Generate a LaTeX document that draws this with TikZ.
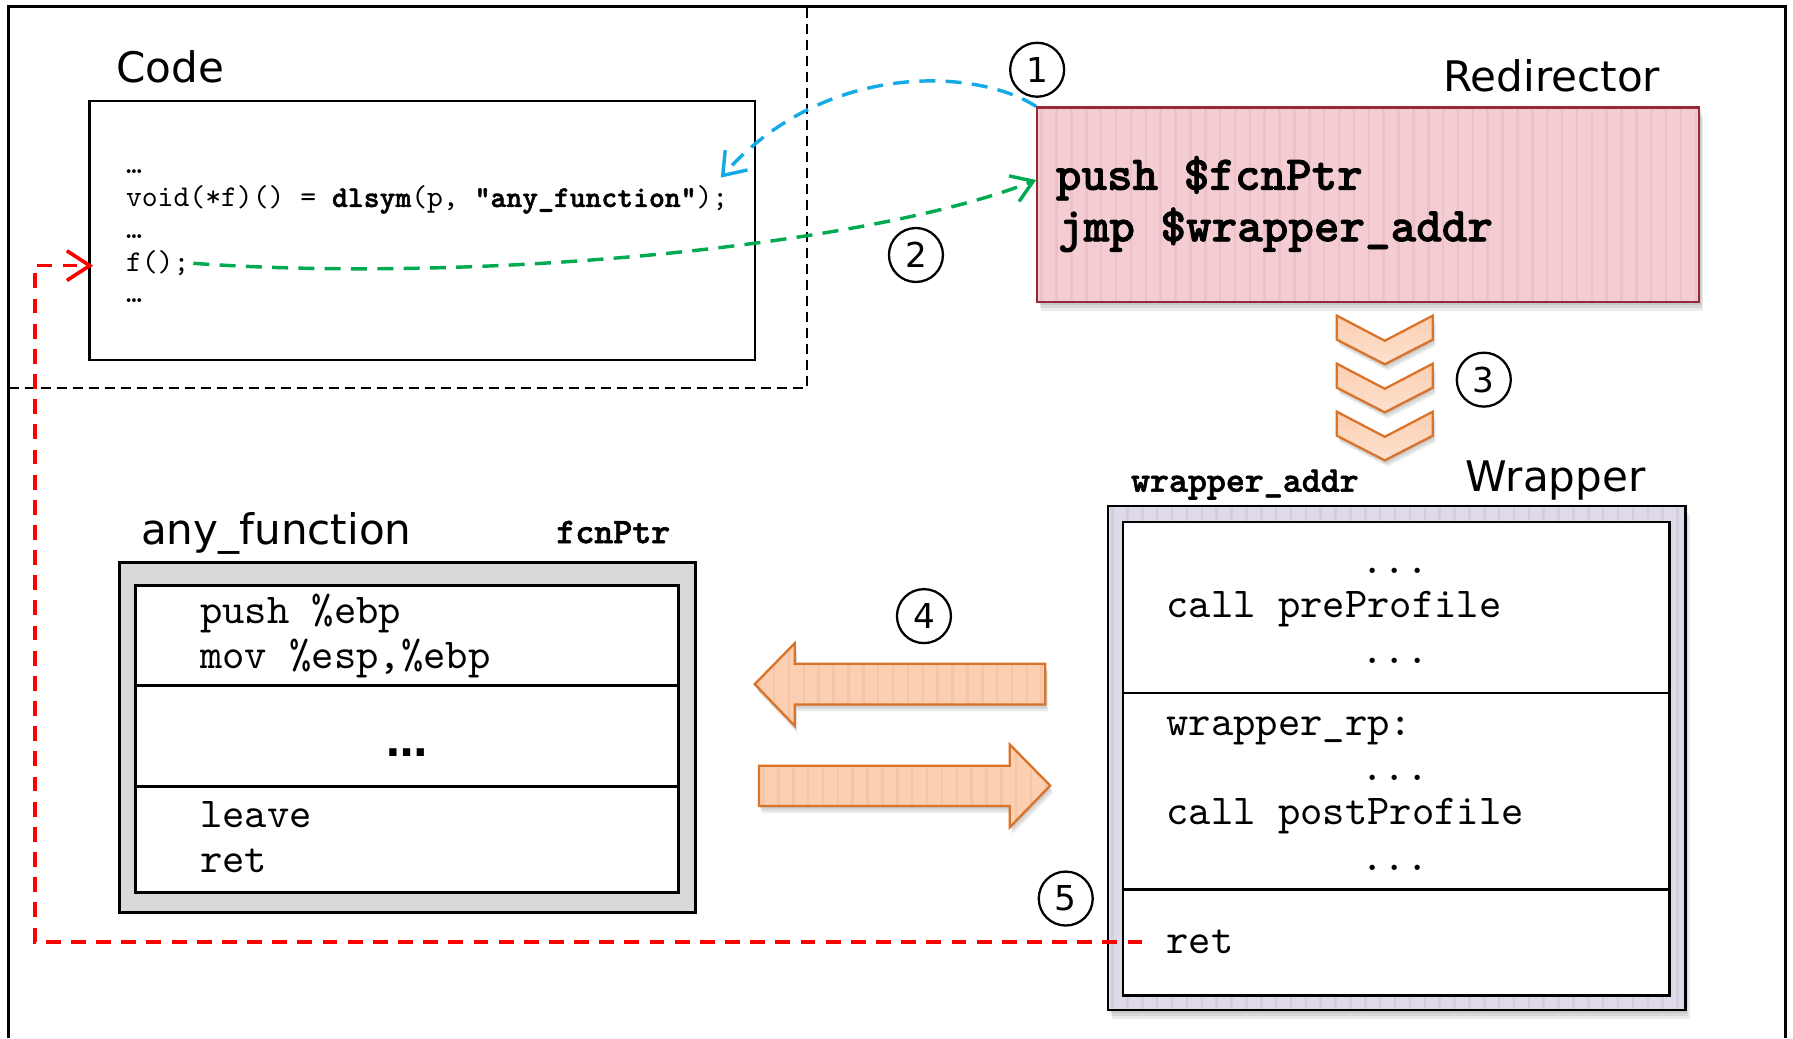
\documentclass[tikz,border=0pt]{standalone}
\usepackage{fontspec}
\setmainfont{DejaVu Sans}
\newfontfamily\cmono{lmmono10-regular.otf}[BoldFont=lmmonolt10-bold.otf,BoldFeatures={FakeBold=1.6}]
\usetikzlibrary{arrows.meta}
\definecolor{redirfill}{RGB}{243,205,210}
\definecolor{redirstripe}{RGB}{236,193,199}
\definecolor{redirdraw}{RGB}{150,40,55}
\definecolor{wrapfill}{RGB}{223,218,232}
\definecolor{wrapstripe}{RGB}{211,205,222}
\definecolor{anyfill}{RGB}{217,217,217}
\definecolor{peach}{RGB}{252,206,178}
\definecolor{peachstripe}{RGB}{246,197,168}
\definecolor{peachlight}{RGB}{253,226,206}
\definecolor{orangedraw}{RGB}{218,115,40}
\definecolor{bluec}{RGB}{20,170,230}
\definecolor{greenc}{RGB}{0,170,80}
\definecolor{redc}{RGB}{255,0,0}
\newcommand{\LArrowPath}{(660,598.3) -- (695,562.5) -- (695,580.5) -- (914,580.5) -- (914,616) -- (695,616) -- (695,634.8) -- cycle}
\newcommand{\RArrowPath}{(663.7,669.6) -- (883,669.6) -- (883,651) -- (918.4,687) -- (883,723.5) -- (883,704.8) -- (663.7,704.8) -- cycle}
\newcommand{\ChevShape}{(1169,276) -- (1211,298) -- (1253,276) -- (1253,297) -- (1211,318.6) -- (1169,297) -- cycle}
\tikzset{
  ttl/.style={inner sep=0pt, anchor=base west, font=\fontsize{18.4pt}{20pt}\selectfont},
  txt/.style={inner sep=0pt, anchor=base west},
  ctxt/.style={inner sep=0pt, anchor=base},
  codef/.style={font=\cmono\fontsize{13.2pt}{15pt}\selectfont},
  asmf/.style={font=\cmono\fontsize{18.6pt}{20pt}\selectfont},
  redf/.style={font=\cmono\bfseries\fontsize{21.3pt}{23pt}\selectfont},
  addrf/.style={font=\cmono\bfseries\fontsize{15.8pt}{17pt}\selectfont},
  num/.style={circle, draw, line width=1pt, minimum size=23.6pt, inner sep=0pt, font=\fontsize{15pt}{16pt}\selectfont},
  stripes/.style={path picture={\foreach \k in {0,...,50}{\draw[#1,line width=1.1pt] ([xshift=\k*6.5pt+2pt]path picture bounding box.south west) -- ([xshift=\k*6.5pt+2pt]path picture bounding box.north west);}}},
  boxnode/.style={inner sep=0pt, line width=1pt},
  chev/.style={draw=orangedraw, line width=1pt, top color=peach, bottom color=peachlight, line join=miter},
  blockarrow/.style={draw=orangedraw, line width=1pt, fill=peach, stripes=peachstripe},
  bluecon/.style={bluec, line width=1.5pt, dash pattern=on 7pt off 4.5pt, -{Straight Barb[length=9pt,width=13pt]}},
  greencon/.style={greenc, line width=1.5pt, dash pattern=on 7pt off 4.5pt, -{Straight Barb[length=9pt,width=12pt]}},
  redcon/.style={redc, line width=1.6pt, dash pattern=on 6.5pt off 4.5pt, -{Straight Barb[length=10pt,width=13pt]}},
  shadowfill/.style={fill=black, opacity=0.08}
}
\begin{document}
\begin{tikzpicture}[x=0.5pt,y=-0.5pt]
\useasboundingbox (0,0) rectangle (1568,908);
\fill[white] (0,0) rectangle (1568,908);

% outer frame and dashed code region
\draw[line width=1.3pt] (7.6,908) -- (7.6,6) -- (1561,6) -- (1561,908);
\draw[line width=0.9pt, dash pattern=on 4.4pt off 2.6pt] (7.6,339.6) -- (705.7,339.6) -- (705.7,6);

% ---------- Code ----------
\node[ttl] (codettl) at (101.5,72) {Code};
\node[boxnode, draw, fill=white, minimum width=291.2pt, minimum height=113.4pt] (code) at (369.35,201.65) {};
\node[txt,codef] (cl1) at (109.8,151.6) {…};
\node[txt,codef] (cl2) at (109.8,181) {void(*f)() = \textbf{dlsym}(p, \textbf{“any\_function”});};
\node[txt,codef] (cl3) at (109.8,208.5) {…};
\node[txt,codef] (ftxt) at (109.8,237.6) {f();};
\node[txt,codef] (cl5) at (109.8,264.7) {…};

% ---------- Redirector ----------
\foreach \s in {1,2,3}{\fill[shadowfill] (907+\s*1.2,94+\s*2.6) rectangle (1486+\s*1.2,264+\s*2.6);}
\node[boxnode, draw=redirdraw, line width=0.9pt, fill=redirfill, stripes=redirstripe, minimum width=289.5pt, minimum height=85pt] (redir) at (1196.5,179) {};
\node[txt,redf] (rl1) at (923,166) {push \$fcnPtr};
\node[txt,redf] (rl2) at (925,211) {jmp \$wrapper\_addr};
\node[ttl] (redttl) at (1262,80) {Redirector};

% ---------- chevrons ----------
\foreach \dy in {0,42,84}{
  \begin{scope}[shift={(0,\dy)}]
    \foreach \s in {1,2,3}{\begin{scope}[shift={(\s*0.8,\s*1.8)}]\fill[shadowfill] \ChevShape;\end{scope}}
    \path[chev] \ChevShape;
  \end{scope}
}

% ---------- circled numbers ----------
\node[num] (n1) at (907,61) {1};
\node[num] (n2) at (801,223) {2};
\node[num] (n3) at (1297.6,332) {3};
\node[num] (n4) at (808,538.8) {4};
\node[num] (n5) at (932,785.8) {5};

% ---------- Wrapper ----------
\foreach \s in {1,2,3}{\fill[shadowfill] (969+\s*1.2,442.5+\s*2.6) rectangle (1474+\s*1.2,883.5+\s*2.6);}
\node[boxnode, draw, fill=wrapfill, stripes=wrapstripe, minimum width=252.5pt, minimum height=220.5pt] (wrapO) at (1221.5,663) {};
\node[boxnode, draw, line width=1.2pt, fill=white, minimum width=239pt, minimum height=207pt] (wrap) at (1221,663.6) {};
\draw[line width=1.2pt] (wrap.west |- 0,606) -- (wrap.east |- 0,606);
\draw[line width=1.2pt] (wrap.west |- 0,778) -- (wrap.east |- 0,778);
\node[ttl] (wrapttl) at (1281.6,430) {Wrapper};
\node[txt,addrf] (waddr) at (988.7,430) {wrapper\_addr};
\node[ctxt,asmf] (w1) at (1220,501.3) {...};
\node[txt,asmf] (w2) at (1019.7,539.6) {call preProfile};
\node[ctxt,asmf] (w3) at (1220,580) {...};
\node[txt,asmf] (w4) at (1019.7,643.2) {wrapper\_rp:};
\node[ctxt,asmf] (w5) at (1220,682.7) {...};
\node[txt,asmf] (w6) at (1019.7,721) {call postProfile};
\node[ctxt,asmf] (w7) at (1220,761.2) {...};
\node[txt,asmf] (rettxt) at (1019.7,833.7) {ret};

% ---------- any_function ----------
\node[ttl] (anyttl) at (123,476) {any\_function};
\node[txt,addrf] (fptr) at (486.2,475) {fcnPtr};
\node[boxnode, draw, line width=1.2pt, fill=anyfill, minimum width=251.8pt, minimum height=153pt] (anyO) at (356.5,645) {};
\node[boxnode, draw, line width=1.3pt, fill=white, minimum width=237.4pt, minimum height=134.1pt] (anyf) at (356.1,646.3) {};
\draw[line width=1.3pt] (anyf.west |- 0,599.6) -- (anyf.east |- 0,599.6);
\draw[line width=1.3pt] (anyf.west |- 0,688) -- (anyf.east |- 0,688);
\node[txt,asmf] (a1) at (174.6,545) {push \%ebp};
\node[txt,asmf] (a2) at (174.6,584.5) {mov \%esp,\%ebp};
\node[ctxt,font=\bfseries\fontsize{18pt}{20pt}\selectfont] (a3) at (356,661.7) {…};
\node[txt,asmf] (a4) at (174.6,723.8) {leave};
\node[txt,asmf] (a5) at (174.6,763.2) {ret};

% ---------- block arrows ----------
\foreach \s in {1,2,3}{\begin{scope}[shift={(\s*0.8,\s*2)}]\fill[shadowfill] \LArrowPath; \fill[shadowfill] \RArrowPath;\end{scope}}
\path[blockarrow] \LArrowPath;
\path[blockarrow] \RArrowPath;

% ---------- connectors ----------
\coordinate (bEnd) at (630.3,155.4);
\draw[bluecon] (redir.north west) .. controls (855,60) and (722,52) .. (bEnd);
\draw[greencon] ([xshift=1.5pt]ftxt.east) .. controls (420,248) and (760,215) .. ([yshift=10.8pt]redir.west);
\coordinate (rCorner) at (30.5,232.3);
\coordinate (rEnd) at (81.4,232.3);
\draw[redcon] ([xshift=-10.3pt]rettxt.west) -| (rCorner) -- (rEnd);
\end{tikzpicture}
\end{document}
